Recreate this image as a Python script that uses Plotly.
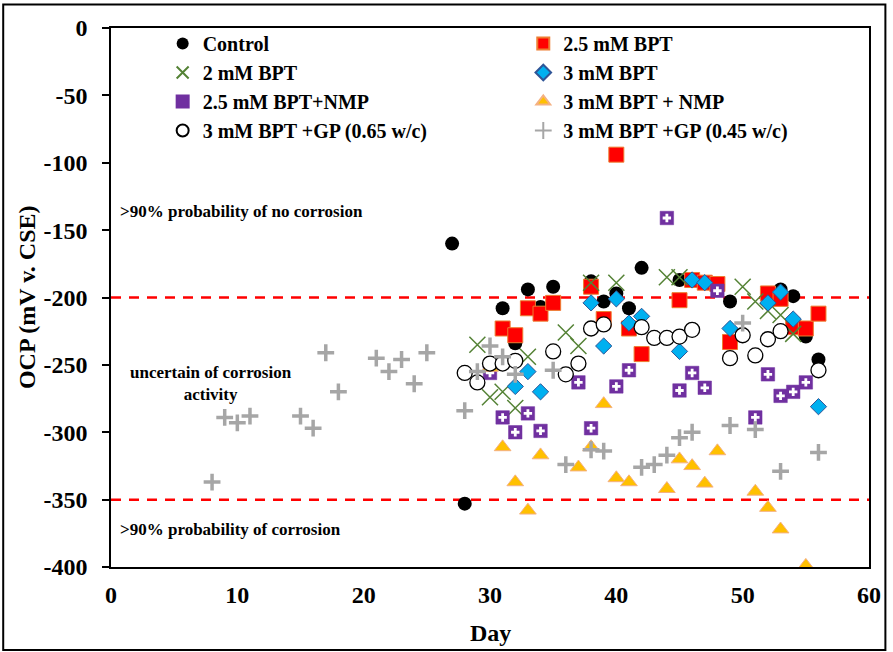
import plotly.graph_objects as go

# ---------------- data ----------------
control_day = [27, 28, 31, 32, 33, 34, 35, 38, 39, 40, 41, 42, 45, 49, 53, 54, 55, 56]
control_ocp = [-160, -353, -208, -234, -194, -207, -192, -188, -203, -197, -208, -178, -187, -203, -194, -199, -229, -246]

bpt25_day = [31, 32, 33, 34, 35, 38, 39, 40, 41, 42, 45, 46, 47, 48, 49, 52, 53, 54, 55, 56]
bpt25_ocp = [-223, -228, -208, -212, -204, -192, -216, -94, -223, -242, -202, -187, -189, -190, -233, -197, -201, -222, -223, -212]

bpt2_day = [29, 30, 31, 32, 33, 36, 37, 38, 40, 44, 45, 50, 51, 52, 53, 54]
bpt2_ocp = [-235, -274, -270, -282, -244, -226, -236, -189, -189, -185, -185, -192, -203, -210, -213, -227]

bpt3_day = [32, 33, 34, 38, 39, 40, 41, 42, 45, 46, 47, 49, 52, 53, 54, 56]
bpt3_ocp = [-266, -255, -270, -204, -236, -201, -219, -214, -240, -187, -189, -223, -204, -196, -216, -281]

nmp25_day = [30, 31, 32, 33, 34, 37, 38, 40, 41, 44, 45, 46, 47, 48, 51, 52, 53, 54, 55]
nmp25_ocp = [-256, -289, -300, -286, -299, -263, -297, -266, -254, -141, -269, -256, -267, -195, -289, -257, -273, -270, -263]

nmp3_day = [30, 31, 32, 33, 34, 37, 38, 39, 40, 41, 44, 45, 46, 47, 48, 51, 52, 53, 55]
nmp3_ocp = [-252, -311, -337, -358, -317, -326, -311, -279, -334, -337, -342, -320, -325, -338, -314, -344, -356, -372, -399]

gp65_day = [28, 29, 30, 31, 32, 35, 36, 37, 38, 39, 42, 43, 44, 45, 46, 49, 50, 51, 52, 53, 56]
gp65_ocp = [-256, -263, -249, -249, -247, -240, -257, -249, -223, -220, -222, -230, -230, -229, -224, -245, -228, -243, -231, -225, -254]

gp45_day = [8, 9, 10, 11, 15, 16, 17, 18, 21, 22, 23, 24, 25, 28, 29, 30, 31, 32, 35, 36, 38, 39,
            42, 43, 44, 45, 46, 49, 50, 51, 53, 56]
gp45_ocp = [-337, -289, -293, -288, -288, -297, -241, -270, -245, -255, -246, -264, -241, -284, -255, -236,
            -244, -257, -254, -324, -313, -314, -326, -324, -317, -304, -300, -295, -219, -298, -329, -315]

series_names = ["Control", "2.5 mM BPT", "2 mM BPT", "3 mM BPT", "2.5 mM BPT+NMP",
                "3 mM BPT + NMP", "3 mM BPT +GP (0.65 w/c)", "3 mM BPT +GP (0.45 w/c)"]
series_x = [control_day, bpt25_day, bpt2_day, bpt3_day, nmp25_day, nmp3_day, gp65_day, gp45_day]
series_y = [control_ocp, bpt25_ocp, bpt2_ocp, bpt3_ocp, nmp25_ocp, nmp3_ocp, gp65_ocp, gp45_ocp]

threshold_levels = [-200, -350]
x_ticks = [0, 10, 20, 30, 40, 50, 60]
y_ticks = [0, -50, -100, -150, -200, -250, -300, -350, -400]

# ---------------- styles ----------------
styles = [
    dict(symbol="circle", size=14, color="#000000", lc="#000000", lw=0, legend="legend"),
    dict(symbol="square", size=15, color="#FF0000", lc="#ED7D31", lw=1, legend="legend2"),
    dict(symbol="x-thin", size=16, color="#548235", lc="#548235", lw=1.5, legend="legend"),
    dict(symbol="diamond", size=12.5, color="#00B0F0", lc="#2F5597", lw=1, legend="legend2"),
    dict(symbol="square", size=13.5, color="#7030A0", lc="#7030A0", lw=0.5, legend="legend"),
    dict(symbol="triangle-up", size=14.5, color="#FFC000", lc="#F4B183", lw=1, legend="legend2"),
    dict(symbol="circle", size=15, color="#FFFFFF", lc="#000000", lw=1.3, legend="legend"),
    dict(symbol="cross-thin", size=12, color="#A6A6A6", lc="#A6A6A6", lw=3.5, legend="legend2"),
]

FONT = "Liberation Serif"

fig = go.Figure()
for name, xs, ys, st in zip(series_names, series_x, series_y, styles):
    fig.add_trace(go.Scatter(
        x=xs, y=ys, mode="markers", name=name, legend=st["legend"],
        marker=dict(symbol=st["symbol"], size=st["size"], color=st["color"],
                    line=dict(color=st["lc"], width=st["lw"])),
    ))
    if name == "2.5 mM BPT+NMP":
        # white plus inside the purple square marker
        fig.add_trace(go.Scatter(
            x=xs, y=ys, mode="markers", name=name, showlegend=False, hoverinfo="skip",
            marker=dict(symbol="cross", size=7, color="#FFFFFF", line=dict(width=0)),
        ))

for lvl in threshold_levels:
    fig.add_shape(type="line", xref="paper", x0=0, x1=1, yref="y", y0=lvl, y1=lvl,
                  line=dict(color="#FF0000", width=2.5, dash="10px,8px"), layer="below")

# outer frame around the whole chart
W, H = 893, 652
L, R, T, B = 111, 19, 28, 85
pw, ph = W - L - R, H - T - B
fig.add_shape(type="rect", xref="paper", yref="paper",
              x0=(2.5 - L) / pw, x1=(890.5 - L) / pw,
              y0=(H - B - 650) / ph, y1=(H - B - 4.5) / ph,
              line=dict(color="#000000", width=2))

ann_font = dict(family=FONT, size=17, color="#000000", weight="bold")
fig.add_annotation(text=">90% probability of no corrosion", xref="paper", x=0.009, xanchor="left",
                   yref="y", y=-136, yanchor="middle", showarrow=False, font=ann_font)
fig.add_annotation(text=">90% probability of corrosion", xref="paper", x=0.009, xanchor="left",
                   yref="y", y=-372, yanchor="middle", showarrow=False, font=ann_font)
fig.add_annotation(text="uncertain of corrosion<br>activity", xref="paper", x=(212 - L) / pw,
                   xanchor="center", yref="y", y=-263.5, yanchor="middle", showarrow=False,
                   font=ann_font, align="center")

title_font = dict(family=FONT, size=24, color="#000000", weight="bold")
fig.add_annotation(text="OCP (mV v. CSE)", xref="paper", x=(26 - L) / pw, xanchor="center",
                   yref="paper", y=0.5, yanchor="middle", textangle=-90, showarrow=False,
                   font=title_font)
fig.add_annotation(text="Day", xref="paper", x=0.5, xanchor="center",
                   yref="paper", y=(H - B - 633) / ph, yanchor="middle", showarrow=False,
                   font=title_font)

legend_font = dict(family=FONT, size=20, color="#000000", weight="bold")
legend_y = (H - B - 24) / ph
tick_font = dict(family=FONT, size=24, color="#000000", weight="bold")
fig.update_layout(
    width=W, height=H,
    margin=dict(l=L, r=R, t=T, b=B),
    paper_bgcolor="white", plot_bgcolor="white",
    font=dict(family=FONT, color="#000000"),
    showlegend=True,
    legend=dict(orientation="v", x=(163 - L) / pw, xanchor="left", y=legend_y, yanchor="top",
                itemsizing="constant", font=legend_font, bgcolor="rgba(0,0,0,0)"),
    legend2=dict(orientation="v", x=(526 - L) / pw, xanchor="left", y=legend_y, yanchor="top",
                 itemsizing="constant", font=legend_font, bgcolor="rgba(0,0,0,0)"),
    xaxis=dict(range=[0, 60], tickvals=x_ticks, ticktext=[str(v) for v in x_ticks],
               showline=True, linecolor="#000000", linewidth=1.5, mirror=True,
               showgrid=False, zeroline=False, ticks="", tickfont=tick_font,
               ticklabelstandoff=5),
    yaxis=dict(range=[-400, 0], tickvals=y_ticks, ticktext=[str(v) for v in y_ticks],
               showline=True, linecolor="#000000", linewidth=1.5, mirror=True,
               showgrid=False, zeroline=False, ticks="outside", ticklen=7, tickcolor="#000000",
               tickwidth=1.5, tickfont=tick_font, ticklabelstandoff=10),
)

fig.write_html("out.html", config={"displayModeBar": False},
               post_script="document.body.style.margin='0px';")
